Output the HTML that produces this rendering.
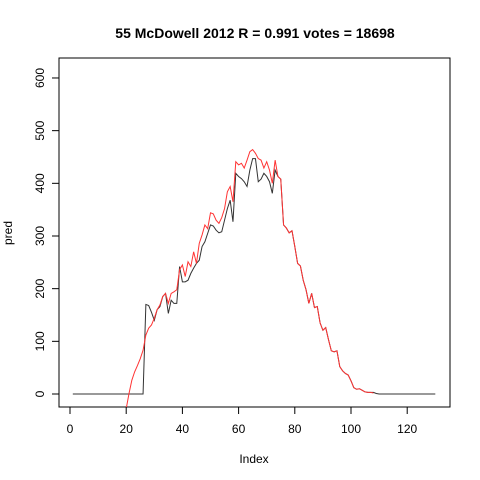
<!DOCTYPE html>
<html><head><meta charset="utf-8"><style>
body{margin:0;background:#fff}
svg{display:block;font-family:"Liberation Sans",Arial,sans-serif}
</style></head><body>
<svg id="chart" width="480" height="480" viewBox="0 0 480 480">
<rect width="480" height="480" fill="#fff"/>
<text x="255" y="38" text-anchor="middle" font-size="14" font-weight="bold">55 McDowell 2012 R = 0.991 votes = 18698</text>
<text x="254" y="463" text-anchor="middle" font-size="12">Index</text>
<text transform="translate(12,233) rotate(-90)" text-anchor="middle" font-size="12">pred</text>
<rect x="59" y="58" width="391" height="349" fill="none" stroke="#000"/>
<g id="axes"></g>
<g id="series"></g>
</svg>
<script>
const xTicks=[0,20,40,60,80,100,120];
const yTicks=[0,100,200,300,400,500,600];
const actual=[0,0,0,0,0,0,0,0,0,0,0,0,0,0,0,0,0,0,0,0,0,0,0,0,0,0,170,168,155,140,160,166,185,191,153,178,172,172,242,213,213,216,229,239,248,254,280,289,305,321,319,311,306,308,330,352,368,327,419,413,409,403,394,425,447,447,403,408,419,413,403,381,425,413,408,321,315,306,310,280,248,243,216,198,172,191,164,166,135,121,126,103,82,80,82,52,44,39,36,25,12,9,10,7,4,3,3,3,1,0,0,0,0,0,0,0,0,0,0,0,0,0,0,0,0,0,0,0,0,0];
const predStart=20;
const pred=[-28,1,26,42,54,67,83,112,125,131,144,160,169,185,191,172,191,194,198,236,245,223,251,242,270,248,286,302,321,314,344,342,330,324,335,352,384,394,365,441,435,438,429,444,460,464,457,447,444,429,441,425,400,444,413,408,321,315,306,310,280,248,243,216,198,172,191,164,166,135,121,126,103,82,80,82,52,44,39,36,25,12,9,10,7,4,3,3,2];
const X=i=>70+2.81*i;
const Y=v=>394-0.5267*v;
const NS="http://www.w3.org/2000/svg";
const axes=document.getElementById('axes');
function mk(t,a,p){const e=document.createElementNS(NS,t);for(const k in a)e.setAttribute(k,a[k]);p.appendChild(e);return e;}
const xl=mk('line',{x1:X(xTicks[0]),x2:X(xTicks[xTicks.length-1]),y1:407,y2:407,stroke:'#000'},axes);


xTicks.forEach(t=>{
 const l=mk('line',{x1:X(t),x2:X(t),y1:407,y2:414,stroke:'#000'},axes);
 
 
 const tx=mk('text',{x:X(t),y:433,'text-anchor':'middle','font-size':12},axes);
 tx.textContent=t;
 
 
});
const yl=mk('line',{x1:59,x2:59,y1:Y(yTicks[0]),y2:Y(yTicks[yTicks.length-1]),stroke:'#000'},axes);


yTicks.forEach(t=>{
 const l=mk('line',{x1:52,x2:59,y1:Y(t),y2:Y(t),stroke:'#000'},axes);
 
 
 const tx=mk('text',{transform:`translate(44,${Y(t)}) rotate(-90)`,'text-anchor':'middle','font-size':12},axes);
 tx.textContent=t;
 
 
});
const series=document.getElementById('series');
mk('clipPath',{id:'clip'},series).appendChild(document.createElementNS(NS,'rect'));
const cr=series.querySelector('clipPath rect');cr.setAttribute('x',59);cr.setAttribute('y',58);cr.setAttribute('width',391);cr.setAttribute('height',349);
const pa=mk('polyline',{points:actual.map((v,i)=>X(i+1)+','+Y(v)).join(' '),fill:'none',stroke:'#333','stroke-width':1},series);


const pp=mk('polyline',{points:pred.map((v,i)=>X(i+predStart)+','+Y(v)).join(' '),fill:'none',stroke:'#f33','stroke-width':1,'clip-path':'url(#clip)'},series);


</script>
</body></html>
